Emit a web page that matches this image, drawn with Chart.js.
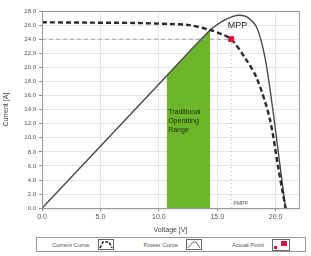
<!DOCTYPE html>
<html>
<head>
<meta charset="utf-8">
<script src="https://cdn.jsdelivr.net/npm/chart.js@4"></script>
<style>
  html, body { margin: 0; padding: 0; background: #fff; }
  body { width: 311px; height: 256px; overflow: hidden; position: relative; font-family: "Liberation Sans", Arial, sans-serif; }
  #wrap { position: absolute; left: 0; top: 0; width: 311px; height: 234px; }
  #legend {
    position: absolute; left: 36px; top: 237px; width: 270px; height: 15px;
    border: 1px solid #999; box-sizing: border-box; font-size: 6px; color: #555;
    display: flex; align-items: center; justify-content: space-around;
  }
  #legend span { display: inline-flex; align-items: center; gap: 8px; }
  #legend svg { border: 1px solid #666; background: #fff; }
</style>
</head>
<body>
<div id="wrap"><canvas id="chart"></canvas></div>
<div id="legend">
  <span>Current Curve <svg width="14" height="9"><path d="M1 8 L4 2 L10 2 L13 8" fill="none" stroke="#222" stroke-width="1.6" stroke-dasharray="3 1.5"/></svg></span>
  <span>Power Curve <svg width="14" height="9"><path d="M1 8 L6 2 L9 2 L13 8" fill="none" stroke="#444" stroke-width="0.8"/></svg></span>
  <span>Actual Point <svg width="16" height="10"><rect x="8" y="1" width="6" height="5" fill="#d4143c"/><rect x="1" y="6" width="3" height="3" fill="#d4143c"/></svg></span>
</div>
<script>
// Voltage [V] / Current [A] readings
const currentV = [0, 4, 8, 11, 12.6, 14.4, 15.4, 16.2, 17.4, 18.4, 19.5, 20.2, 20.85];
const currentI = [26.4, 26.35, 26.3, 26.15, 26.0, 25.3, 24.7, 24.0, 21.3, 18.4, 12.7, 6.0, 0];

const powerV = [0, 5, 10, 14.4, 15.5, 16.3, 16.9, 17.6, 18.4, 19.1, 19.8, 20.3, 20.85];
const powerP = [0, 8.8, 17.6, 25.3, 26.6, 27.2, 27.4, 27.1, 25.6, 21.3, 13.5, 7.0, 0];

const rangeV = [10.7, 14.4];
const rangeP = [18.8, 25.3];

const mppV = 16.2;
const mppI = 24.0;

const yTicks = [0, 2, 4, 6, 8, 10, 12, 14, 16, 18, 20, 22, 24, 26, 28];
const xTicks = [0, 5, 10, 15, 20];

const pts = (xs, ys) => xs.map((x, i) => ({ x, y: ys[i] }));

const frame = {
  id: 'frame',
  afterDraw(chart) {
    const { ctx, chartArea: a, scales: { x, y } } = chart;
    ctx.save();
    ctx.strokeStyle = '#9a9a9a';
    ctx.lineWidth = 1;
    ctx.strokeRect(a.left + 0.5, a.top + 0.5, a.right - a.left, a.bottom - a.top);
    ctx.fillStyle = '#222';
    ctx.font = '9px "Liberation Sans", Arial, sans-serif';
    ctx.textBaseline = 'middle';
    ctx.fillText('MPP', x.getPixelForValue(15.9), y.getPixelForValue(26.0));
    ctx.font = '7px "Liberation Sans", Arial, sans-serif';
    ctx.fillStyle = '#1d2a0a';
    ['Traditional', 'Operating', 'Range'].forEach((t, i) => {
      ctx.fillText(t, x.getPixelForValue(10.8), y.getPixelForValue(13.6) + i * 9);
    });
    ctx.fillStyle = '#555';
    ctx.font = '5px "Liberation Sans", Arial, sans-serif';
    ctx.fillText('PMPP', x.getPixelForValue(16.4), y.getPixelForValue(0.6));
    ctx.restore();
  }
};

new Chart(document.getElementById('chart'), {
  type: 'scatter',
  data: {
    datasets: [
      {
        label: 'Range', data: pts(rangeV, rangeP), showLine: true, fill: 'origin',
        backgroundColor: '#6db52b', borderWidth: 0, pointRadius: 0, order: 5
      },
      {
        label: 'MPP guide H', data: pts([0, mppV], [mppI, mppI]), showLine: true,
        borderColor: '#a0a0a0', borderWidth: 1, borderDash: [4, 3], pointRadius: 0, order: 4
      },
      {
        label: 'MPP guide V', data: pts([mppV, mppV], [mppI, 0]), showLine: true,
        borderColor: '#b8b8b8', borderWidth: 1, borderDash: [1, 3], pointRadius: 0, order: 4
      },
      {
        label: 'Power Curve', data: pts(powerV, powerP), showLine: true, tension: 0.3,
        borderColor: '#4a4a4a', borderWidth: 1.4, pointRadius: 0, order: 2
      },
      {
        label: 'Current Curve', data: pts(currentV, currentI), showLine: true, tension: 0.3,
        borderColor: '#2a2a2a', borderWidth: 2.4, borderDash: [5, 3], pointRadius: 0, order: 1
      },
      {
        label: 'Actual Point', data: pts([mppV], [mppI]), pointStyle: 'rect',
        pointRadius: 3.5, backgroundColor: '#d4143c', borderColor: '#d4143c', order: 0
      }
    ]
  },
  options: {
    responsive: true, maintainAspectRatio: false, animation: false,
    layout: { padding: { top: 11, right: 12, left: 2, bottom: 0 } },
    plugins: { legend: { display: false }, tooltip: { enabled: false } },
    scales: {
      x: {
        type: 'linear', min: 0, max: 22,
        afterBuildTicks: s => { s.ticks = xTicks.map(v => ({ value: v })); },
        ticks: { color: '#555', font: { size: 7 }, callback: v => v.toFixed(1), padding: 2 },
        grid: { color: '#e4e4e4', tickLength: 3, tickColor: '#888' },
        border: { color: '#9a9a9a' },
        title: { display: true, text: 'Voltage [V]', color: '#444', font: { size: 7 }, padding: { top: 2, bottom: 0 } }
      },
      y: {
        type: 'linear', min: 0, max: 28,
        afterBuildTicks: s => { s.ticks = yTicks.map(v => ({ value: v })); },
        afterFit: s => { s.width = 40; },
        ticks: { color: '#555', font: { size: 6 }, callback: v => v.toFixed(1), padding: 3 },
        grid: { color: '#e4e4e4', tickLength: 3, tickColor: '#888' },
        border: { color: '#9a9a9a' },
        title: { display: true, text: 'Current [A]', color: '#444', font: { size: 7 }, padding: { top: 0, bottom: 2 } }
      }
    }
  },
  plugins: [frame]
});
</script>
</body>
</html>
